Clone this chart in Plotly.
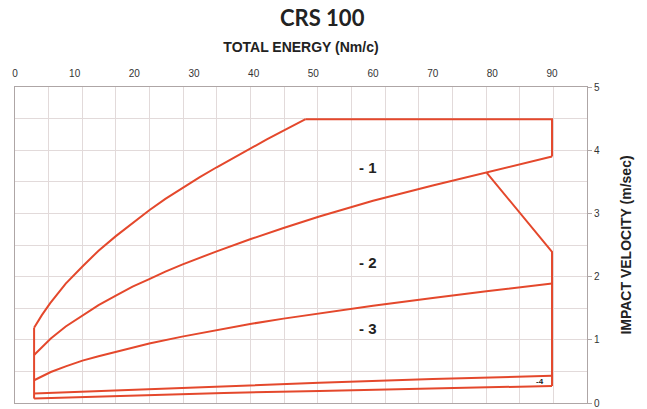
import plotly.graph_objects as go

# ---- data (energy Nm/c, velocity m/s) ----
left_edge_e = [3.2, 3.2]
left_edge_v = [0.07, 1.19]

top_curve_e = [3.2, 4.5, 5.9, 8.5, 11.3, 14.0, 16.9, 19.7, 22.5, 25.2, 28.0, 30.9, 33.8, 36.6, 39.4, 42.2, 45.0, 48.7]
top_curve_v = [1.19, 1.39, 1.58, 1.89, 2.16, 2.41, 2.64, 2.85, 3.05, 3.23, 3.40, 3.57, 3.73, 3.88, 4.03, 4.17, 4.31, 4.49]

top_edge_e = [48.7, 90.0, 90.0]
top_edge_v = [4.49, 4.49, 3.90]

curve2_e = [3.2, 6.0, 8.5, 11.3, 14.0, 16.9, 19.7, 22.5, 25.2, 28.0, 30.9, 33.8, 39.4, 45.0, 51.0, 60.0, 70.0, 79.0, 90.0]
curve2_v = [0.76, 1.02, 1.21, 1.39, 1.55, 1.70, 1.84, 1.96, 2.08, 2.19, 2.30, 2.40, 2.59, 2.77, 2.95, 3.20, 3.44, 3.65, 3.90]

divider_e = [79.0, 90.0, 90.0]
divider_v = [3.65, 2.39, 0.27]

curve3_e = [3.2, 6.0, 8.5, 11.3, 14.0, 16.9, 19.7, 22.5, 28.0, 33.8, 39.4, 45.0, 51.0, 60.0, 70.0, 79.0, 90.0]
curve3_v = [0.36, 0.49, 0.58, 0.67, 0.74, 0.81, 0.88, 0.94, 1.05, 1.155, 1.25, 1.335, 1.42, 1.54, 1.66, 1.77, 1.89]

curve4_e = [3.2, 20.0, 35.0, 51.0, 70.0, 90.0]
curve4_v = [0.15, 0.21, 0.27, 0.32, 0.38, 0.43]

curve5_e = [3.2, 20.0, 35.0, 51.0, 70.0, 90.0]
curve5_v = [0.07, 0.12, 0.16, 0.19, 0.23, 0.27]

zone_labels = ["- 1", "- 2", "- 3", "-4"]
zone_e = [59.2, 59.2, 59.2, 88.0]
zone_v = [3.73, 2.22, 1.18, 0.34]
zone_sizes = [15, 15, 15, 8]

x_ticks = [0, 10, 20, 30, 40, 50, 60, 70, 80, 90]
y_ticks = [0, 1, 2, 3, 4, 5]

RED = "#e4482c"
GRID = "#e2dada"
BORDER = "#aea6a6"
NARROW = "Liberation Sans Narrow, Arial Narrow, Liberation Sans, Arial, sans-serif"

fig = go.Figure()
segments = [
    (left_edge_e, left_edge_v),
    (top_curve_e, top_curve_v),
    (top_edge_e, top_edge_v),
    (curve2_e, curve2_v),
    (divider_e, divider_v),
    (curve3_e, curve3_v),
    (curve4_e, curve4_v),
    (curve5_e, curve5_v),
]
for xs, ys in segments:
    fig.add_trace(go.Scatter(x=xs, y=ys, mode="lines",
                             line=dict(color=RED, width=2, shape="linear"),
                             hoverinfo="skip", showlegend=False))

for t, e, v, s in zip(zone_labels, zone_e, zone_v, zone_sizes):
    fig.add_annotation(x=e, y=v, text="<b>%s</b>" % t, showarrow=False,
                       font=dict(family="Liberation Sans, Arial, sans-serif", size=s, color="#222222"))

fig.update_layout(
    width=647, height=409,
    margin=dict(l=15, r=60, t=87, b=6),
    paper_bgcolor="white", plot_bgcolor="white",
    title=dict(text="<b>CRS 100</b>", x=0.498, xref="container", xanchor="center",
               y=1 - 18 / 409, yref="container", yanchor="middle",
               font=dict(family="Lato, Noto Sans, sans-serif", size=22, color="#222222")),
    xaxis=dict(side="top", range=[0, 95.86], tickmode="array", tickvals=x_ticks,
               automargin=False, ticklabelstandoff=5,
               showgrid=False, zeroline=False, showline=True, mirror=True,
               linecolor=BORDER, linewidth=1, ticks="",
               tickfont=dict(family=NARROW, size=10, color="#333333"),
               title=dict(text="<b>TOTAL ENERGY (Nm/c)</b>", standoff=12,
                          font=dict(family=NARROW, size=14, color="#222222")),
               minor=dict(tick0=0, dtick=95.86 / 17, showgrid=True, gridcolor=GRID, gridwidth=1, ticks="")),
    yaxis=dict(side="right", range=[0, 5], tickmode="array", tickvals=y_ticks,
               automargin=False,
               showgrid=True, gridcolor=GRID, zeroline=False, showline=True, mirror=True,
               linecolor=BORDER, linewidth=1, ticks="outside", ticklen=4, tickcolor=BORDER,
               tickfont=dict(family=NARROW, size=10, color="#333333"),
               title=dict(text="<b>IMPACT VELOCITY (m/sec)</b>", standoff=22,
                          font=dict(family=NARROW, size=14, color="#222222")),
               minor=dict(dtick=0.5, showgrid=True, gridcolor=GRID, gridwidth=1, ticks="")),
)

fig.write_html("out.html", config={"displayModeBar": False},
               post_script="document.body.style.margin='0';document.body.style.overflow='hidden';")
